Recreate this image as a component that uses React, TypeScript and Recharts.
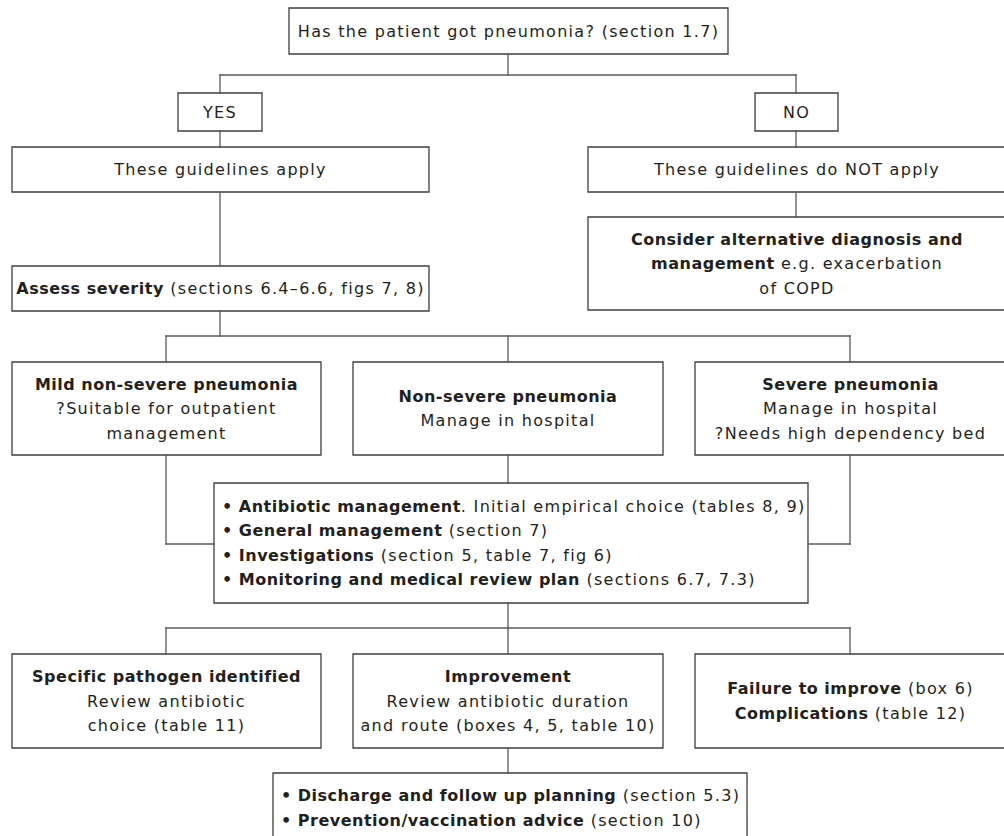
import React from "react";
import {
  ComposedChart,
  XAxis,
  YAxis,
  Scatter,
  ReferenceArea,
  ReferenceLine,
} from "recharts";

// Flow chart drawn in a 1004 x 836 "diagram space" (y grows downwards)

// Box extents: [x1, x2, y1, y2]
const boxIds = [
  "question", "yes", "no", "apply", "notApply", "consider", "assess",
  "mild", "nonSevere", "severe", "antibiotic", "specific", "improvement",
  "failure", "discharge",
];

const boxExtents: Record<string, number[]> = {
  question: [289, 728, 8, 54],
  yes: [178, 262, 93, 131],
  no: [755, 838, 93, 131],
  apply: [12, 429, 147, 192],
  notApply: [588, 1006, 147, 192],
  consider: [588, 1006, 217, 310],
  assess: [12, 429, 266, 311],
  mild: [12, 321, 362, 455],
  nonSevere: [353, 663, 362, 455],
  severe: [695, 1006, 362, 455],
  antibiotic: [214, 808, 483, 603],
  specific: [12, 321, 654, 748],
  improvement: [353, 663, 654, 748],
  failure: [695, 1006, 654, 748],
  discharge: [273, 747, 773, 843],
};

// Text per box, one string per line, **bold** parts
const boxLines: Record<string, string[]> = {
  question: ["Has the patient got pneumonia? (section 1.7)"],
  yes: ["YES"],
  no: ["NO"],
  apply: ["These guidelines apply"],
  notApply: ["These guidelines do NOT apply"],
  consider: [
    "**Consider alternative diagnosis and**",
    "**management** e.g. exacerbation",
    "of COPD",
  ],
  assess: ["**Assess severity** (sections 6.4–6.6, figs 7, 8)"],
  mild: ["**Mild non-severe pneumonia**", "?Suitable for outpatient", "management"],
  nonSevere: ["**Non-severe pneumonia**", "Manage in hospital"],
  severe: ["**Severe pneumonia**", "Manage in hospital", "?Needs high dependency bed"],
  antibiotic: [
    "**• Antibiotic management**. Initial empirical choice (tables 8, 9)",
    "**• General management** (section 7)",
    "**• Investigations** (section 5, table 7, fig 6)",
    "**• Monitoring and medical review plan** (sections 6.7, 7.3)",
  ],
  specific: ["**Specific pathogen identified**", "Review antibiotic", "choice (table 11)"],
  improvement: [
    "**Improvement**",
    "Review antibiotic duration",
    "and route (boxes 4, 5, table 10)",
  ],
  failure: ["**Failure to improve** (box 6)", "**Complications** (table 12)"],
  discharge: [
    "**• Discharge and follow up planning** (section 5.3)",
    "**• Prevention/vaccination advice** (section 10)",
  ],
};

const leftAligned = ["antibiotic", "discharge"];

// Connector polylines as lists of [x, y] points
const connectors: number[][][] = [
  [[508, 54], [508, 75]],
  [[220, 93], [220, 75], [796, 75], [796, 93]],
  [[220, 131], [220, 147]],
  [[796, 131], [796, 147]],
  [[220, 192], [220, 266]],
  [[796, 192], [796, 217]],
  [[220, 311], [220, 336]],
  [[166, 362], [166, 336], [850, 336], [850, 362]],
  [[508, 336], [508, 362]],
  [[166, 455], [166, 544], [214, 544]],
  [[850, 455], [850, 544], [808, 544]],
  [[508, 455], [508, 483]],
  [[508, 603], [508, 628]],
  [[166, 654], [166, 628], [850, 628], [850, 654]],
  [[508, 628], [508, 654]],
  [[508, 748], [508, 773]],
];

const FONT = "'DejaVu Sans', sans-serif";
const TEXT = "#231f20";
const LINE_H = 24.5;

function parseLine(line: string) {
  return line.split("**").map((t, i) => ({ t, bold: i % 2 === 1 })).filter((s) => s.t);
}

function BoxText(props: any) {
  const { viewBox, id } = props;
  if (!viewBox) return null;
  const lines = boxLines[id];
  const left = leftAligned.includes(id);
  const cx = left ? viewBox.x + 8 : viewBox.x + viewBox.width / 2;
  const cy = viewBox.y + viewBox.height / 2;
  return (
    <g>
      {lines.map((line, i) => (
        <text
          key={i}
          x={cx}
          y={cy + (i - (lines.length - 1) / 2) * LINE_H + 5.5}
          textAnchor={left ? "start" : "middle"}
          fontFamily={FONT}
          fontSize={16}
          fill={TEXT}
        >
          {parseLine(line).map((s, j) => (
            <tspan
              key={j}
              fontWeight={s.bold ? "bold" : "normal"}
              letterSpacing={s.bold ? 0.5 : 1.3}
            >
              {s.t}
            </tspan>
          ))}
        </text>
      ))}
    </g>
  );
}

const anchors = boxIds.map((id) => {
  const [x1, x2, y1, y2] = boxExtents[id];
  return { x: (x1 + x2) / 2, y: (y1 + y2) / 2 };
});

const noShape = () => <g />;

export default function App() {
  return (
    <div style={{ position: "absolute", left: 0, top: 0, width: 1004, height: 836, background: "#fff" }}>
      <ComposedChart width={1004} height={836} data={anchors} margin={{ top: 0, right: 0, bottom: 0, left: 0 }}>
        <XAxis type="number" dataKey="x" domain={[0, 1004]} hide allowDataOverflow />
        <YAxis type="number" dataKey="y" domain={[0, 836]} reversed hide allowDataOverflow />
        {connectors.flatMap((pts, ci) =>
          pts.slice(1).map((p, k) => (
            <ReferenceLine
              key={`c${ci}-${k}`}
              segment={[
                { x: pts[k][0], y: pts[k][1] },
                { x: p[0], y: p[1] },
              ]}
              ifOverflow="visible"
              stroke="#5a5a5a"
              strokeWidth={1.3}
              strokeLinecap="square"
            />
          ))
        )}
        {boxIds.map((id) => {
          const [x1, x2, y1, y2] = boxExtents[id];
          return (
            <ReferenceArea
              key={id}
              x1={x1}
              x2={x2}
              y1={y1}
              y2={y2}
              ifOverflow="visible"
              fill="#ffffff"
              fillOpacity={1}
              stroke="#3f3f3f"
              strokeWidth={1.3}
              label={<BoxText id={id} />}
            />
          );
        })}
        <Scatter dataKey="y" shape={noShape} isAnimationActive={false} />
      </ComposedChart>
    </div>
  );
}
